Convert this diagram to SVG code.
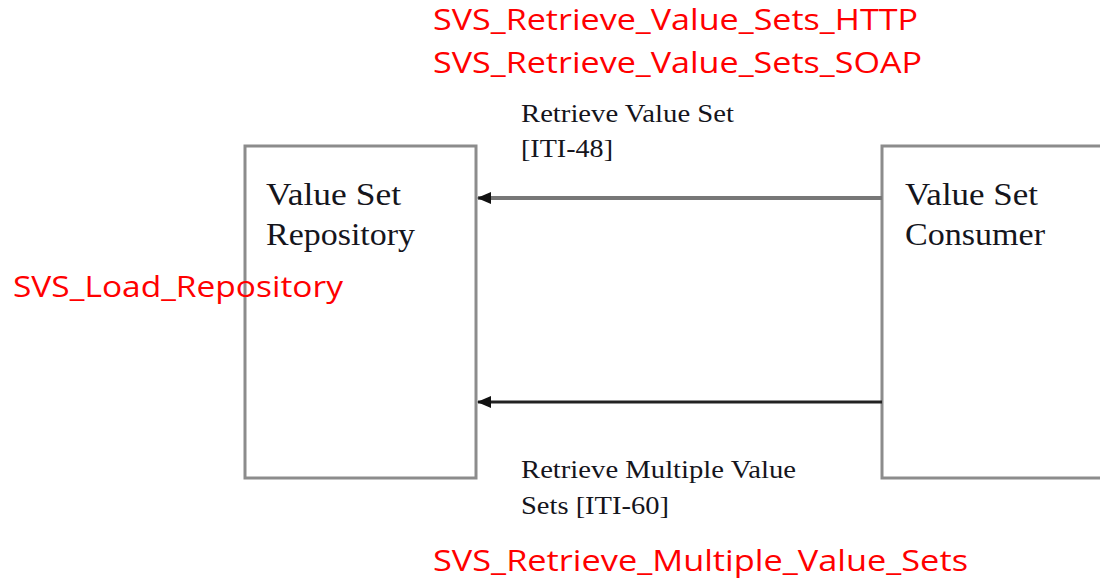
<svg xmlns="http://www.w3.org/2000/svg" width="1100" height="582" viewBox="0 0 1100 582">
<defs>
<style>
.box{fill:#fff;stroke:#8c8c8c;stroke-width:3}
.lbl{font-family:"Liberation Serif","Times New Roman",serif;fill:#15151c}
.big{font-size:32px}
.sm{font-size:25px}
.red{font-family:"Open Sans","Noto Sans",sans-serif;font-size:29px;fill:#ff0000}
</style>
<marker id="ah" markerWidth="14" markerHeight="12" refX="13" refY="6" orient="auto" markerUnits="userSpaceOnUse" overflow="visible">
<path d="M0,0 L14,6 L0,12 Z" fill="#111"/>
</marker>
</defs>
<rect width="1100" height="582" fill="#fff"/>
<g id="repository">
<rect class="box" x="245" y="146" width="231" height="332"/>
<text class="lbl big" x="266" y="205" textLength="135" lengthAdjust="spacingAndGlyphs">Value Set</text>
<text class="lbl big" x="266" y="245" textLength="149" lengthAdjust="spacingAndGlyphs">Repository</text>
</g>
<g id="consumer">
<rect class="box" x="882" y="146" width="240" height="332"/>
<text class="lbl big" x="905" y="205" textLength="133" lengthAdjust="spacingAndGlyphs">Value Set</text>
<text class="lbl big" x="905" y="245" textLength="140" lengthAdjust="spacingAndGlyphs">Consumer</text>
</g>
<g id="connectors">
<line x1="882" y1="198" x2="478" y2="198" stroke="#777" stroke-width="4" marker-end="url(#ah)"/>
<line x1="882" y1="402" x2="478" y2="402" stroke="#222" stroke-width="3" marker-end="url(#ah)"/>
<text class="lbl sm" x="521" y="122" textLength="213" lengthAdjust="spacingAndGlyphs">Retrieve Value Set</text>
<text class="lbl sm" x="521" y="157" textLength="92" lengthAdjust="spacingAndGlyphs">[ITI-48]</text>
<text class="lbl sm" x="521" y="478" textLength="275" lengthAdjust="spacingAndGlyphs">Retrieve Multiple Value</text>
<text class="lbl sm" x="521" y="514" textLength="148" lengthAdjust="spacingAndGlyphs">Sets [ITI-60]</text>
</g>
<g id="annotations">
<text class="red" x="433" y="30" textLength="485" lengthAdjust="spacingAndGlyphs">SVS_Retrieve_Value_Sets_HTTP</text>
<text class="red" x="433" y="73" textLength="489" lengthAdjust="spacingAndGlyphs">SVS_Retrieve_Value_Sets_SOAP</text>
<text class="red" x="13" y="297" textLength="330" lengthAdjust="spacingAndGlyphs">SVS_Load_Repository</text>
<text class="red" x="433" y="571" textLength="535" lengthAdjust="spacingAndGlyphs">SVS_Retrieve_Multiple_Value_Sets</text>
</g>
</svg>
